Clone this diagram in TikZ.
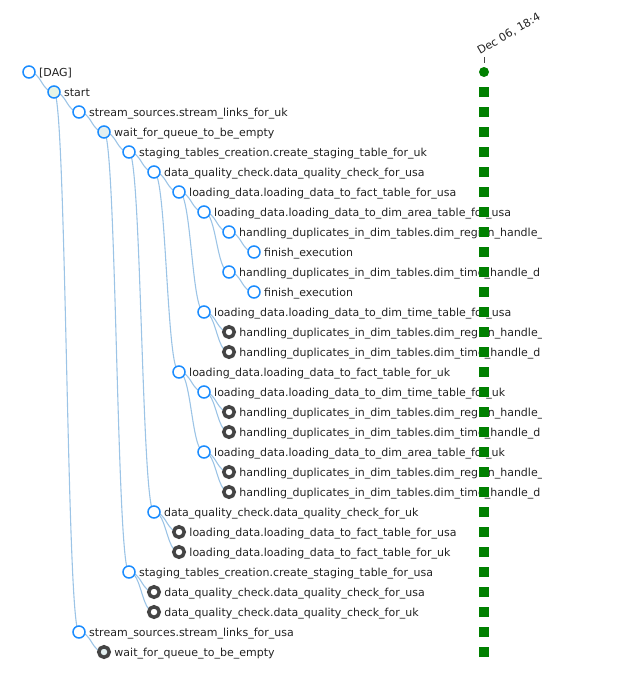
\documentclass[tikz,border=0pt]{standalone}
\usepackage{fontspec}
\setmainfont{DejaVu Sans}
\usetikzlibrary{positioning,backgrounds}
\definecolor{nodeblue}{HTML}{1A8CFF}
\definecolor{ringgrey}{HTML}{444444}
\definecolor{linkblue}{HTML}{9CC4E6}
\definecolor{labelgrey}{HTML}{222222}
\definecolor{okgreen}{HTML}{008000}
\definecolor{dummyfill}{HTML}{E6F4E6}
\definecolor{waitfill}{HTML}{E3EFF0}
\newcommand\hdregion{handling\_duplicates\_in\_dim\_tables.dim\_region\_handle\_}
\newcommand\hdtime{handling\_duplicates\_in\_dim\_tables.dim\_time\_handle\_d}
\begin{document}
\begin{tikzpicture}[x=1pt, y=1pt, on grid, node distance={20pt and 25pt},
  expanded/.style = {circle, draw=nodeblue, line width=1.5pt, fill=white, minimum size=12pt, inner sep=0pt},
  collapsed/.style = {circle, draw=ringgrey, line width=3.5pt, fill=white, minimum size=10.5pt, inner sep=0pt},
  every label/.style = {font=\fontsize{11pt}{13pt}\selectfont, text=labelgrey, inner sep=0pt, xshift=3.25pt, text height=10pt, text depth=2pt},
  lnk/.style = {draw=linkblue, line width=1.1pt},
  ok/.style = {fill=okgreen, minimum size=10pt, inner sep=0pt},
  okdot/.style = {circle, fill=okgreen, minimum size=10pt, inner sep=0pt}]
\useasboundingbox (0,0) rectangle (635,-688);

\begin{scope}
\clip (0,0) rectangle (541,-688);
\node[expanded] (r0) at (29,-72) [label={right:{[DAG]}}] {};
\node[expanded, fill=dummyfill] (r1) [below right=of r0, label=right:start] {};
\node[expanded] (r2) [below right=of r1, label=right:stream\_sources.stream\_links\_for\_uk] {};
\node[expanded, fill=waitfill] (r3) [below right=of r2, label=right:wait\_for\_queue\_to\_be\_empty] {};
\node[expanded] (r4) [below right=of r3, label=right:staging\_tables\_creation.create\_staging\_table\_for\_uk] {};
\node[expanded] (r5) [below right=of r4, label=right:data\_quality\_check.data\_quality\_check\_for\_usa] {};
\node[expanded] (r6) [below right=of r5, label=right:loading\_data.loading\_data\_to\_fact\_table\_for\_usa] {};
\node[expanded] (r7) [below right=of r6, label=right:loading\_data.loading\_data\_to\_dim\_area\_table\_for\_usa] {};
\node[expanded] (r8) [below right=of r7, label=right:\hdregion] {};
\node[expanded] (r9) [below right=of r8, label=right:finish\_execution] {};
\node[expanded] (r10) [below left=of r9, label=right:\hdtime] {};
\node[expanded] (r11) [below right=of r10, label=right:finish\_execution] {};
\node[expanded] (r12) [below left=20pt and 50pt of r11, label=right:loading\_data.loading\_data\_to\_dim\_time\_table\_for\_usa] {};
\node[collapsed] (r13) [below right=of r12, label=right:\hdregion] {};
\node[collapsed] (r14) [below=of r13, label=right:\hdtime] {};
\node[expanded] (r15) [below left=20pt and 50pt of r14, label=right:loading\_data.loading\_data\_to\_fact\_table\_for\_uk] {};
\node[expanded] (r16) [below right=of r15, label=right:loading\_data.loading\_data\_to\_dim\_time\_table\_for\_uk] {};
\node[collapsed] (r17) [below right=of r16, label=right:\hdregion] {};
\node[collapsed] (r18) [below=of r17, label=right:\hdtime] {};
\node[expanded] (r19) [below left=of r18, label=right:loading\_data.loading\_data\_to\_dim\_area\_table\_for\_uk] {};
\node[collapsed] (r20) [below right=of r19, label=right:\hdregion] {};
\node[collapsed] (r21) [below=of r20, label=right:\hdtime] {};
\node[expanded] (r22) [below left=20pt and 75pt of r21, label=right:data\_quality\_check.data\_quality\_check\_for\_uk] {};
\node[collapsed] (r23) [below right=of r22, label=right:loading\_data.loading\_data\_to\_fact\_table\_for\_usa] {};
\node[collapsed] (r24) [below=of r23, label=right:loading\_data.loading\_data\_to\_fact\_table\_for\_uk] {};
\node[expanded] (r25) [below left=20pt and 50pt of r24, label=right:staging\_tables\_creation.create\_staging\_table\_for\_usa] {};
\node[collapsed] (r26) [below right=of r25, label=right:data\_quality\_check.data\_quality\_check\_for\_usa] {};
\node[collapsed] (r27) [below=of r26, label=right:data\_quality\_check.data\_quality\_check\_for\_uk] {};
\node[expanded] (r28) [below left=20pt and 75pt of r27, label=right:stream\_sources.stream\_links\_for\_usa] {};
\node[collapsed, fill=waitfill] (r29) [below right=of r28, label=right:wait\_for\_queue\_to\_be\_empty] {};

\begin{scope}[on background layer]
\foreach \a/\b in {0/1, 1/2, 1/28, 2/3, 3/4, 3/25, 4/5, 4/22, 5/6, 5/15, 6/7, 6/12, 7/8, 7/10, 8/9, 10/11,
                   12/13, 12/14, 15/16, 15/19, 16/17, 16/18, 19/20, 19/21, 22/23, 22/24, 25/26, 25/27, 28/29}
  \draw[lnk] (r\a.center) .. controls +(12.5,0) and +(-12.5,0) .. (r\b.center);
\end{scope}
\end{scope}

% status column
\coordinate (col) at (484,0);
\node[okdot] (s0) at (col |- r0) {};
\foreach \i in {1,...,29}
  \node[ok] (s\i) at (col |- r\i) {};
\draw[ringgrey, line width=0.8pt] ([yshift=4pt]s0.north) -- ([yshift=10pt]s0.north);
\begin{scope}
\clip (440,-10) rectangle (600,-60);
\node[font=\fontsize{11pt}{13pt}\selectfont, text=labelgrey, inner sep=0pt, rotate=30, anchor=base west] (date)
  at ([xshift=-4pt, yshift=12pt]s0.north) {Dec 06, 18:4};
\end{scope}

\end{tikzpicture}
\end{document}
